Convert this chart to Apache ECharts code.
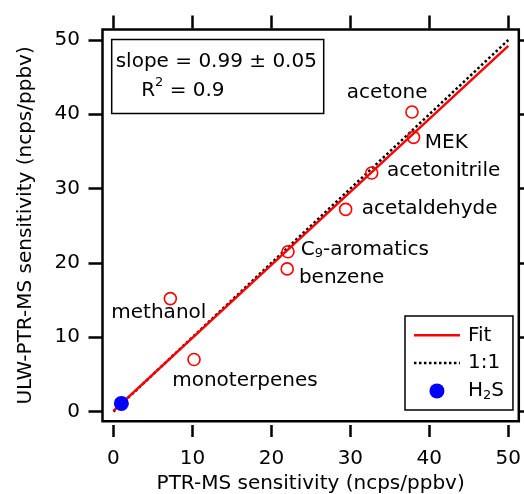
<!DOCTYPE html>
<html lang="en">
<head>
    <meta charset="UTF-8">
    <title>ULW-PTR-MS vs PTR-MS</title>
    <script src="https://cdn.jsdelivr.net/npm/echarts@6/dist/echarts.min.js"></script>
    <style>
        html, body { margin: 0; padding: 0; background: #fff; }
        #chart { width: 524px; height: 494px; }
    </style>
</head>
<body>
    <div id="chart"></div>
    <script>
        // 化合物灵敏度 (ncps/ppbv)
        var compounds = ['acetone', 'MEK', 'acetonitrile', 'acetaldehyde', 'C9-aromatics', 'benzene', 'methanol', 'monoterpenes'];
        var ptrSens = [37.8, 38.0, 32.7, 29.4, 22.1, 22.0, 7.2, 10.2];
        var ulwSens = [40.3, 36.9, 32.1, 27.2, 21.5, 19.2, 15.2, 7.0];

        // H2S 单独一点
        var h2sPtr = [1.0];
        var h2sUlw = [1.1];

        // 拟合线和 1:1 线的端点
        var fitX = [0, 50];
        var fitY = [0.1, 49.2];
        var oneX = [0, 50];
        var oneY = [0, 50];

        var ticks = [0, 10, 20, 30, 40, 50];

        // 标签相对于圆心的位置 [dx, dy, 对齐]
        var labelPlace = {
            'acetone': [-24, -18, 'center'],
            'MEK': [12, 6, 'left'],
            'acetonitrile': [16, -1, 'left'],
            'acetaldehyde': [17, 0, 'left'],
            'C9-aromatics': [13.5, -1.5, 'left'],
            'benzene': [12.5, 10, 'left'],
            'methanol': [-10.7, 15, 'center'],
            'monoterpenes': [-21, 22.4, 'left']
        };

        function pairs(xs, ys) {
            var out = [];
            for (var i = 0; i < xs.length; i++) {
                out.push([xs[i], ys[i]]);
            }
            return out;
        }

        var symSize = 12;
        var compoundData = [];
        for (var i = 0; i < compounds.length; i++) {
            var p = labelPlace[compounds[i]];
            compoundData.push({
                name: compounds[i],
                value: [ptrSens[i], ulwSens[i]],
                label: {
                    position: [symSize / 2 + p[0], symSize / 2 + p[1]],
                    align: p[2],
                    verticalAlign: 'middle'
                }
            });
        }

        var font = 'DejaVu Sans';
        var black = '#000';
        var noSymbol = { color: 'rgba(0,0,0,0)', borderWidth: 0, opacity: 0 };
        // 坐标轴线不画，也不要贴在 0 上
        var hiddenLine = { show: false, onZero: false };

        var myChart = echarts.init(document.getElementById('chart'));

        var option = {
            animation: false,
            textStyle: { fontFamily: font },
            grid: {
                show: true,
                left: 102.5,
                top: 29.5,
                right: 5.2,
                bottom: 72.7,
                outerBoundsMode: 'none',
                containLabel: false,
                borderColor: black,
                borderWidth: 2.5
            },
            title: {
                text: 'slope = 0.99 ± 0.05\n    R{sup|2} = 0.9',
                left: 111.7,
                top: 39.5,
                padding: [8, 7, 8, 4],
                borderColor: black,
                borderWidth: 1.5,
                textStyle: {
                    fontFamily: font,
                    fontSize: 20,
                    fontWeight: 'normal',
                    color: black,
                    lineHeight: 29,
                    rich: {
                        sup: { fontSize: 13, lineHeight: 10, verticalAlign: 'top', fontFamily: font, color: black }
                    }
                }
            },
            legend: {
                data: [
                    { name: 'Fit', itemStyle: noSymbol },
                    { name: '1:1', itemStyle: noSymbol },
                    { name: 'H2S' }
                ],
                orient: 'vertical',
                left: 405,
                top: 316,
                itemWidth: 46,
                itemHeight: 15,
                itemGap: 7.8,
                padding: [9.3, 9, 8, 7.7],
                borderColor: black,
                borderWidth: 1.5,
                backgroundColor: '#fff',
                selectedMode: false,
                lineStyle: { width: 2.5 },
                formatter: function (name) {
                    if (name === 'H2S') {
                        return '{n|H}{s|2}{n|S}';
                    }
                    return '{n|' + name + '}';
                },
                textStyle: {
                    color: black,
                    fontFamily: font,
                    fontSize: 20,
                    padding: [0, 0, 0, 3],
                    rich: {
                        n: { fontSize: 20, lineHeight: 22, fontFamily: font, color: black },
                        s: { fontSize: 13, lineHeight: 9, verticalAlign: 'bottom', fontFamily: font, color: black }
                    }
                }
            },
            xAxis: [
                {
                    type: 'value',
                    position: 'bottom',
                    min: -1.39,
                    max: 51.33,
                    offset: 3.7,
                    name: 'PTR-MS sensitivity (ncps/ppbv)',
                    nameLocation: 'middle',
                    nameGap: 45,
                    nameTextStyle: { fontSize: 20, color: black, fontFamily: font },
                    axisLine: hiddenLine,
                    axisTick: { customValues: ticks, inside: false, length: 12, lineStyle: { color: black, width: 2.5 } },
                    axisLabel: { customValues: ticks, margin: 23.5, fontSize: 20, color: black, fontFamily: font },
                    splitLine: { show: false }
                },
                {
                    type: 'value',
                    position: 'top',
                    min: -1.39,
                    max: 51.33,
                    offset: 1,
                    axisLine: hiddenLine,
                    axisTick: { customValues: ticks, inside: false, length: 13, lineStyle: { color: black, width: 2.5 } },
                    axisLabel: { show: false },
                    splitLine: { show: false }
                }
            ],
            yAxis: [
                {
                    type: 'value',
                    position: 'left',
                    min: -1.31,
                    max: 51.41,
                    offset: 0,
                    name: 'ULW-PTR-MS sensitivity (ncps/ppbv)',
                    nameLocation: 'middle',
                    nameGap: 67,
                    nameTextStyle: { fontSize: 20, color: black, fontFamily: font },
                    axisLine: hiddenLine,
                    axisTick: { customValues: ticks, inside: false, length: 14, lineStyle: { color: black, width: 2.5 } },
                    axisLabel: { customValues: ticks, margin: 22.5, fontSize: 20, color: black, fontFamily: font },
                    splitLine: { show: false }
                },
                {
                    type: 'value',
                    position: 'right',
                    min: -1.31,
                    max: 51.41,
                    offset: 1.2,
                    axisLine: hiddenLine,
                    axisTick: { customValues: ticks, inside: false, length: 4, lineStyle: { color: black, width: 2.5 } },
                    axisLabel: { show: false },
                    splitLine: { show: false }
                }
            ],
            series: [
                {
                    name: '1:1',
                    type: 'line',
                    symbol: 'none',
                    lineStyle: { color: black, width: 2.5, type: [2.5, 2.5] },
                    itemStyle: { color: black },
                    data: pairs(oneX, oneY),
                    z: 2
                },
                {
                    name: 'Fit',
                    type: 'line',
                    symbol: 'none',
                    lineStyle: { color: '#ff0000', width: 2.5 },
                    itemStyle: { color: '#ff0000' },
                    data: pairs(fitX, fitY),
                    z: 3
                },
                {
                    name: 'VOCs',
                    type: 'scatter',
                    symbol: 'circle',
                    symbolSize: symSize,
                    itemStyle: { color: 'rgba(0,0,0,0)', borderColor: '#ff0000', borderWidth: 1.6, opacity: 1 },
                    label: {
                        show: true,
                        color: black,
                        fontFamily: font,
                        fontSize: 20,
                        formatter: function (params) {
                            if (params.name === 'C9-aromatics') {
                                return '{n|C}{s|9}{n|-aromatics}';
                            }
                            return '{n|' + params.name + '}';
                        },
                        rich: {
                            n: { fontSize: 20, lineHeight: 22, fontFamily: font, color: black },
                            s: { fontSize: 13, lineHeight: 10, verticalAlign: 'bottom', fontFamily: font, color: black }
                        }
                    },
                    emphasis: { disabled: true },
                    data: compoundData,
                    z: 4
                },
                {
                    name: 'H2S',
                    type: 'scatter',
                    symbol: 'circle',
                    symbolSize: 15,
                    itemStyle: { color: '#0000ff', opacity: 1 },
                    emphasis: { disabled: true },
                    data: pairs(h2sPtr, h2sUlw),
                    z: 5
                }
            ]
        };

        // 使用刚指定的配置项和数据显示图表。
        myChart.setOption(option);
    </script>
</body>
</html>
